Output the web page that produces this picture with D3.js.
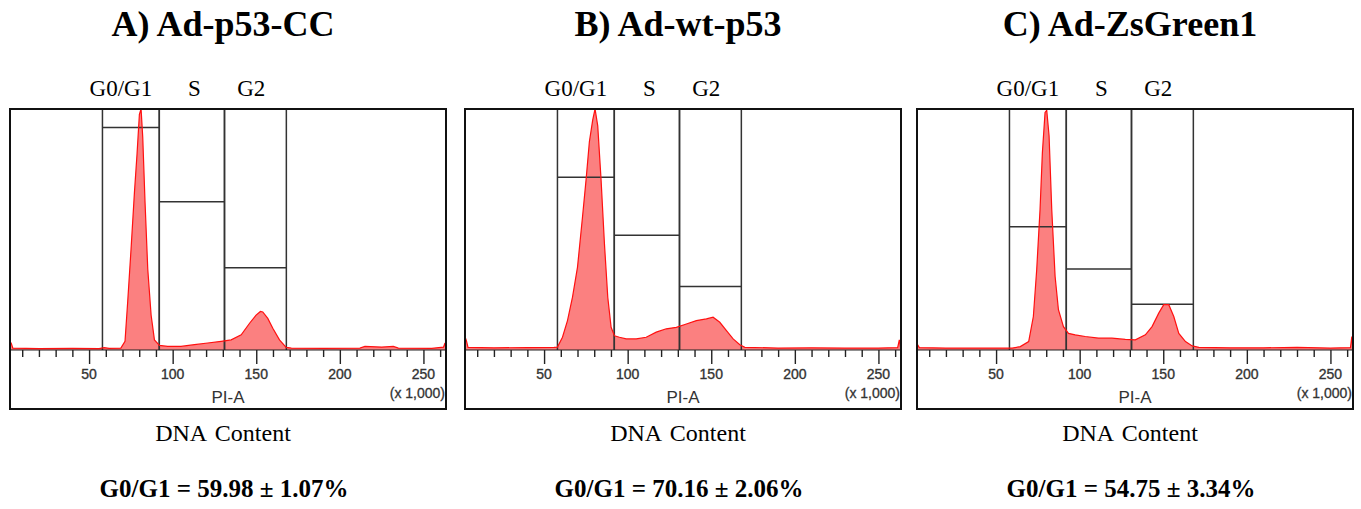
<!DOCTYPE html>
<html>
<head>
<meta charset="utf-8">
<script src="https://cdnjs.cloudflare.com/ajax/libs/d3/7.8.5/d3.min.js"></script>
<style>
  body { margin: 0; background: #fff; }
  svg { display: block; }
</style>
</head>
<body>
<svg id="chart" width="1361" height="509"></svg>
<script>
// panel titles and summary text
var titles = ["A) Ad-p53-CC", "B) Ad-wt-p53", "C) Ad-ZsGreen1"];
var summaries = ["G0/G1 = 59.98 \u00b1 1.07%", "G0/G1 = 70.16 \u00b1 2.06%", "G0/G1 = 54.75 \u00b1 3.34%"];

// gates on PI-A (x 1,000)
var gateNames = ["G0/G1", "S", "G2"];
var gateBounds = [[58, 92], [92, 131], [131, 168]];
var gateLabelAt = [69, 113, 147];
// height of the gate bar, % of full scale, per panel
var gateLevels = [
  [92.3, 61.5, 34.1],
  [71.7, 47.6, 26.4],
  [51.1, 33.6, 19.0]
];

var tickValues = [50, 100, 150, 200, 250];

// histograms: [PI-A x1000, % of full scale]
var histA = [[2.7,0],[2.8,3],[3.4,2.9],[4.4,0.8],[20,0.6],[40,0.7],[56,0.6],[59,1.0],[62,0.7],[69,0.8],
  [71.5,3.6],[73.1,20],[75.1,41.8],[77.1,65],[78.7,81.4],[80.1,97.8],[81.1,100],[82.1,88.3],[83.5,60.9],
  [85.1,33.6],[87.1,14.5],[89.1,4.2],[92.1,1.9],[97,1.5],[105,1.5],[113,2.2],[121,2.9],[129,3.6],[135,4.2],
  [141,6.3],[146,11.1],[149.9,14.5],[152.5,16],[153.9,15.8],[156.9,13.1],[159.9,9.0],[163.9,4.2],[167.9,1.1],
  [171,0.8],[190,0.7],[212,0.8],[215,1.5],[225,1.2],[232,1.5],[235,0.8],[255,0.7],[262,1.2],[262.9,2.9],[263.5,0]];

var histB = [[2.7,0],[2.8,5.3],[3.5,4],[4.5,1.1],[20,0.9],[40,1.0],[56,1.1],[58,1.2],[61,5.3],[64,12.2],
  [67,21.9],[70,34.4],[73,55.3],[75.1,70.5],[77.1,86.4],[79.1,95.5],[80.5,100],[82.1,93],[84.1,70.5],
  [86.1,44.2],[88.1,21.9],[90.1,9.4],[92.1,5.9],[95.1,5.3],[99.1,4.6],[105.1,4.6],[111.1,5.3],[117.1,7.4],
  [123.1,8.8],[129.1,9.4],[135.1,10.8],[141.1,12.2],[147.1,12.9],[151.1,13.6],[155.1,11.5],[159.1,8.0],
  [163.1,4.6],[167.1,2.2],[170.1,1.1],[190,0.8],[210,0.9],[230,0.8],[250,0.8],[261.5,1.0],[262.5,4.2],[263.5,0]];

var histC = [[2.7,0],[2.8,2.5],[4.1,1.0],[20,0.8],[40,0.8],[59.6,0.8],[64.5,1.4],[69.5,3.5],[72.3,13.9],
  [74.3,33.3],[76.3,58.3],[77.7,81.9],[79.3,98.6],[80.3,99.5],[81.7,88.9],[83.3,58.3],[85.3,30.6],[87.3,16.7],
  [90.3,9.7],[93.3,6.9],[97.3,6.3],[103.3,5.6],[111.3,4.9],[119.3,4.9],[127.3,4.4],[133.3,4.2],[139.3,6.3],
  [143.3,9.7],[147.3,15.3],[150.3,18.8],[153.3,18.8],[156.3,13.9],[159.3,6.9],[163.3,3.5],[167.3,1.7],
  [171.3,1.1],[190,0.9],[210,0.9],[230,1.1],[250,0.8],[262,1.0],[262.8,5.6],[263.5,0]];

var hists = [histA, histB, histC];

var svg = d3.select("#chart");
var panelLeft = [10, 465, 917];
var boxTop = 109, boxW = 436, plotH = 241, boxH = 300;

var x = d3.scaleLinear().domain([2.7, 263.5]).range([0, boxW]);
var y = d3.scaleLinear().domain([0, 100]).range([plotH, 0]);

var area = d3.area()
  .x(function(d) { return x(d[0]); })
  .y0(y(0))
  .y1(function(d) { return y(d[1]); });
var line = d3.line()
  .x(function(d) { return x(d[0]); })
  .y(function(d) { return y(d[1]); });

var serif = "'Liberation Serif', 'Times New Roman', serif";
var sans = "'Liberation Sans', Arial, sans-serif";

titles.forEach(function(t, i) {
  var cx = panelLeft[i] + boxW / 2 - 5;

  svg.append("text").attr("x", cx).attr("y", 36)
    .attr("text-anchor", "middle")
    .style("font-family", serif)
    .style("font-weight", "bold").style("font-size", "36px")
    .text(t);

  var g = svg.append("g").attr("transform", "translate(" + panelLeft[i] + "," + boxTop + ")");

  // gate labels
  g.selectAll(".glab").data(gateNames).enter().append("text")
    .attr("x", function(d, j) { return x(gateLabelAt[j]); })
    .attr("y", -13)
    .attr("text-anchor", "middle")
    .style("font-family", serif)
    .style("font-size", "23px")
    .text(function(d) { return d; });

  // histogram fill
  g.append("path").datum(hists[i]).attr("d", area)
    .attr("fill", "#fb8080");

  // gates
  gateBounds.forEach(function(b, j) {
    var lv = y(gateLevels[i][j]);
    g.append("path")
      .attr("d", "M" + x(b[0]) + "," + plotH + "V0M" + x(b[1]) + "," + plotH + "V0M" + x(b[0]) + "," + lv + "H" + x(b[1]))
      .attr("fill", "none").attr("stroke", "#333").attr("stroke-width", 1.5);
  });

  // x axis
  var axG = g.append("g").attr("transform", "translate(0," + plotH + ")");
  axG.call(d3.axisBottom(x).tickValues(d3.range(10, 261, 10)).tickSize(6).tickFormat(""))
    .call(function(s) { s.select(".domain").remove(); });
  axG.selectAll(".tick line").attr("stroke", "#222").attr("stroke-width", 1.4)
    .attr("y2", function(d) { return d % 50 === 0 ? 14 : 7; });
  axG.selectAll(".lab").data(tickValues).enter().append("text")
    .attr("x", function(d) { return x(d); }).attr("y", 29)
    .attr("text-anchor", "middle")
    .style("font-family", sans)
    .style("font-size", "14px").style("fill", "#333")
    .style("stroke", "#333").style("stroke-width", 0.35)
    .text(function(d) { return d; });
  g.append("line").attr("x1", 0).attr("x2", boxW).attr("y1", plotH).attr("y2", plotH)
    .attr("stroke", "#222").attr("stroke-width", 1.2);
  // histogram outline
  g.append("path").datum(hists[i]).attr("d", line)
    .attr("fill", "none").attr("stroke", "#ff1010").attr("stroke-width", 1.2);

  g.append("text").attr("x", boxW / 2).attr("y", 294)
    .attr("text-anchor", "middle")
    .style("font-family", sans)
    .style("font-size", "17px").style("fill", "#333")
    .text("PI-A");
  g.append("text").attr("x", boxW - 1).attr("y", 289)
    .attr("text-anchor", "end")
    .style("font-family", sans)
    .style("font-size", "14px").style("fill", "#333")
    .style("stroke", "#333").style("stroke-width", 0.3)
    .text("(x 1,000)");

  // frame
  g.append("rect").attr("x", 0).attr("y", 0).attr("width", boxW).attr("height", boxH)
    .attr("fill", "none").attr("stroke", "#111").attr("stroke-width", 2);

  svg.append("text").attr("x", cx).attr("y", 441)
    .attr("text-anchor", "middle")
    .style("font-family", serif)
    .style("font-size", "24px").style("word-spacing", "3px")
    .text("DNA Content");

  svg.append("text").attr("x", cx + 1).attr("y", 497)
    .attr("text-anchor", "middle")
    .style("font-family", serif)
    .style("font-weight", "bold").style("font-size", "25px")
    .text(summaries[i]);
});
</script>
</body>
</html>
